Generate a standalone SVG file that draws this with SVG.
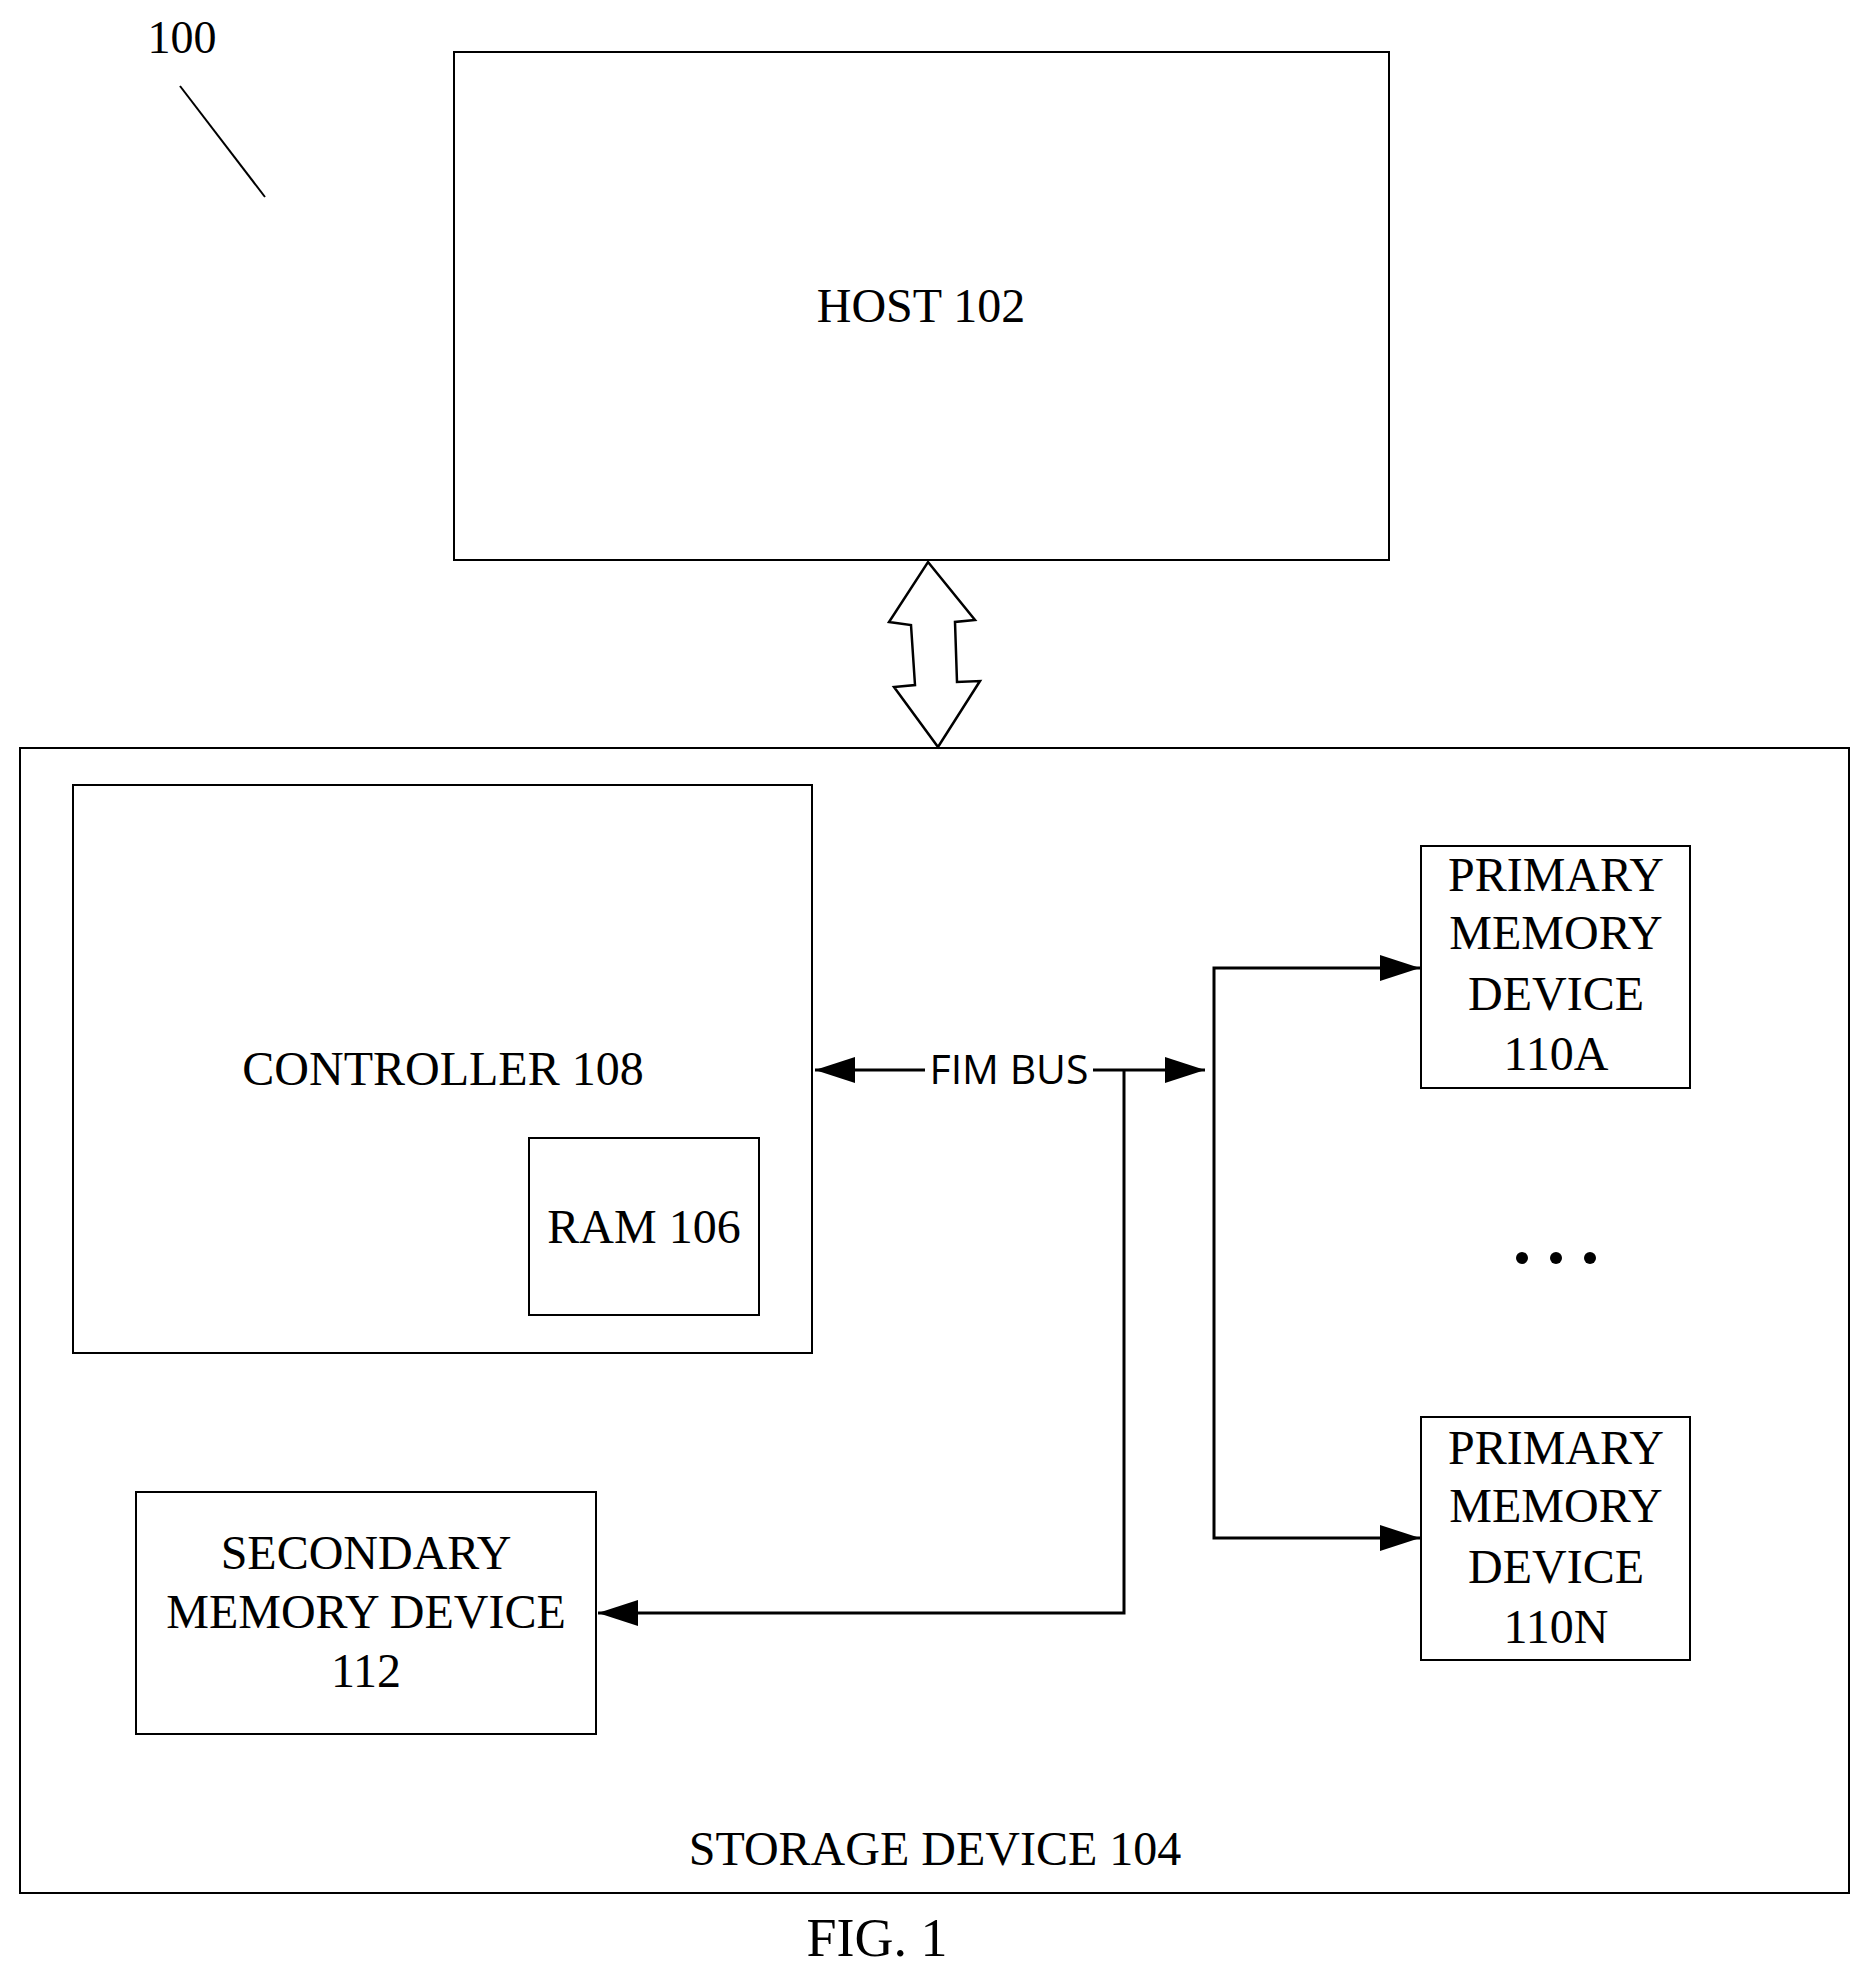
<svg xmlns="http://www.w3.org/2000/svg" width="1868" height="1977" viewBox="0 0 1868 1977">
<style>
.box{fill:none;stroke:#000;stroke-width:2}
.t{font-family:"Liberation Serif",serif;font-size:48px;text-anchor:middle;fill:#000}
.c{fill:none;stroke:#000;stroke-width:3}
</style>
<defs>
<marker id="ah" markerUnits="userSpaceOnUse" markerWidth="42" markerHeight="28" refX="40" refY="13" orient="auto-start-reverse">
<path d="M0,0 L40,13 L0,26 Z" fill="#000"/>
</marker>
</defs>
<g id="label100">
<text x="182" y="53" class="t" style="font-size:46px">100</text>
<line x1="180" y1="86" x2="265" y2="197" stroke="#000" stroke-width="2"/>
</g>
<g id="host">
<rect x="454" y="52" width="935" height="508" class="box"/>
<text x="921" y="322" class="t">HOST 102</text>
</g>
<g id="storage">
<rect x="20" y="748" width="1829" height="1145" class="box"/>
<text x="935" y="1865" class="t">STORAGE DEVICE 104</text>
</g>
<g id="controller">
<rect x="73" y="785" width="739" height="568" class="box"/>
<text x="443" y="1085" class="t">CONTROLLER 108</text>
</g>
<g id="ram">
<rect x="529" y="1138" width="230" height="177" class="box"/>
<text x="644" y="1243" class="t">RAM 106</text>
</g>
<g id="primaryA">
<rect x="1421" y="846" width="269" height="242" class="box"/>
<text class="t"><tspan x="1556" y="891">PRIMARY</tspan><tspan x="1556" y="949">MEMORY</tspan><tspan x="1556" y="1010">DEVICE</tspan><tspan x="1556" y="1070">110A</tspan></text>
</g>
<g id="primaryN">
<rect x="1421" y="1417" width="269" height="243" class="box"/>
<text class="t"><tspan x="1556" y="1464">PRIMARY</tspan><tspan x="1556" y="1522">MEMORY</tspan><tspan x="1556" y="1583">DEVICE</tspan><tspan x="1556" y="1643">110N</tspan></text>
</g>
<g id="secondary">
<rect x="136" y="1492" width="460" height="242" class="box"/>
<text class="t"><tspan x="366" y="1569">SECONDARY</tspan><tspan x="366" y="1628">MEMORY DEVICE</tspan><tspan x="366" y="1687">112</tspan></text>
</g>
<g id="dots">
<circle cx="1522" cy="1258" r="6"/><circle cx="1556" cy="1258" r="6"/><circle cx="1590" cy="1258" r="6"/>
</g>
<g id="connectors">
<polygon points="928,562 975,620 955,622 957,682 980,681 938,747 894,687 915,685 911,625 889,622" fill="#fff" stroke="#000" stroke-width="2.5" stroke-linejoin="miter"/>
<line x1="925" y1="1070" x2="815" y2="1070" class="c" marker-end="url(#ah)"/>
<text x="1009" y="1084" style="font-family:'Open Sans',sans-serif;font-size:41px;text-anchor:middle">FIM BUS</text>
<line x1="1093" y1="1070" x2="1205" y2="1070" class="c" marker-end="url(#ah)"/>
<polyline points="1124,1070 1124,1613 598,1613" class="c" marker-end="url(#ah)"/>
<polyline points="1420,968 1214,968 1214,1538 1420,1538" class="c" marker-start="url(#ah)" marker-end="url(#ah)"/>
</g>
<text x="877" y="1956" class="t" style="font-size:54px">FIG. 1</text>
</svg>
